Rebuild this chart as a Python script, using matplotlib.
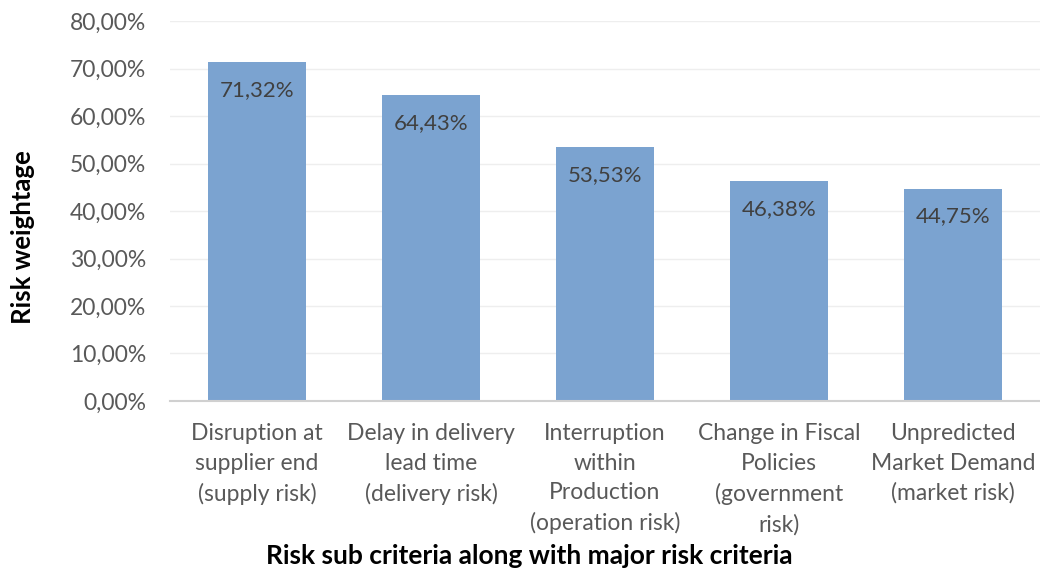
import matplotlib.pyplot as plt
from matplotlib.ticker import FuncFormatter

plt.rcParams['font.family'] = ['Lato', 'DejaVu Sans']

categories = [
    "Disruption at\nsupplier end\n(supply risk)",
    "Delay in delivery\nlead time\n(delivery risk)",
    "Interruption\nwithin\nProduction\n(operation risk)",
    "Change in Fiscal\nPolicies\n(government\nrisk)",
    "Unpredicted\nMarket Demand\n(market risk)",
]
weights = [71.32, 64.43, 53.53, 46.38, 44.75]
yticks = [0, 10, 20, 30, 40, 50, 60, 70, 80]

fig = plt.figure(figsize=(10.4, 5.72), dpi=100)
ax = fig.add_axes([0.1635, 0.299, 0.8365, 0.664])

x = range(len(categories))
bars = ax.bar(x, weights, width=0.56, color="#7ba3d0", zorder=2)

# value labels sit just inside the top of each bar
for b, v in zip(bars, weights):
    ax.annotate(f"{v:.2f}%".replace(".", ","),
                (b.get_x() + b.get_width() / 2, v),
                xytext=(0, -13), textcoords="offset points",
                ha="center", va="top", fontsize=16, color="#404040")

ax.set_xlim(-0.5, len(categories) - 0.5)
ax.set_ylim(0, 80)
ax.set_yticks(yticks)
ax.yaxis.set_major_formatter(FuncFormatter(lambda v, p: f"{v:.2f}%".replace(".", ",")))
ax.set_xticks(list(x))
ax.set_xticklabels(categories, linespacing=1.5)
ax.tick_params(axis="both", length=0, labelsize=16.5, labelcolor="#595959")
ax.tick_params(axis="y", pad=17)
ax.tick_params(axis="x", pad=16)
ax.grid(axis="y", color="#eeeeee", linewidth=1, zorder=0)

for s in ["top", "right", "left"]:
    ax.spines[s].set_visible(False)
ax.spines["bottom"].set_color("#d0d0d0")
ax.spines["bottom"].set_linewidth(1.5)

fig.text(0.022, 0.586, "Risk weightage", rotation=90, ha="center", va="center",
         fontsize=18.5, fontweight="bold", color="black")
fig.text(0.509, 0.028, "Risk sub criteria along with major risk criteria",
         ha="center", va="center", fontsize=19, fontweight="bold", color="black")

fig.savefig("out.png", dpi=100)
